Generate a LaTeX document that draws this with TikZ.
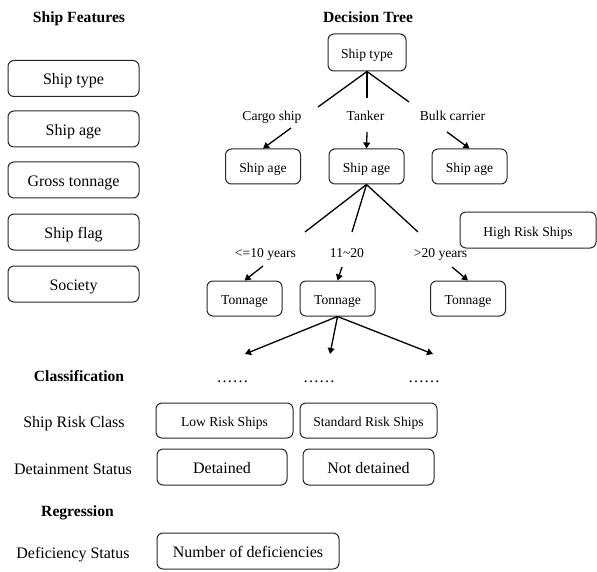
\documentclass[tikz,border=0pt]{standalone}
\usepackage{fontspec}
\setmainfont{Liberation Serif}
\usetikzlibrary{arrows.meta}
\begin{document}
\begin{tikzpicture}[x=0.5pt,y=-0.5pt,
 every node/.style={text height=0.66em, text depth=0.02em},
 box/.style={draw=black!85, line width=0.5pt, rounded corners=3pt, inner sep=0pt, align=center},
 big/.style={font=\fontsize{8}{9.6}\selectfont},
 small/.style={font=\fontsize{6.8}{8}\selectfont},
 ttl/.style={font=\fontsize{7.8}{9}\selectfont\bfseries},
 conn/.style={line width=0.65pt},
 arr/.style={line width=0.65pt, -{Triangle[length=3pt,width=3.4pt]}},
 lbox/.style={box,big,minimum width=65.5pt,minimum height=18pt},
 tbox/.style={box,small,minimum width=37.5pt,minimum height=17.5pt}]
\useasboundingbox (0,0) rectangle (597,571);

% titles
\node[ttl] (tf) at (79,16) {Ship Features};
\node[ttl] (tdt) at (368,16) {Decision Tree};

% features
\node[lbox] (f1) at (73.5,78.5) {Ship type};
\node[lbox] (f2) at (73.5,129) {Ship age};
\node[lbox] (f3) at (73.5,180) {Gross tonnage};
\node[lbox] (f4) at (73.5,232) {Ship flag};
\node[lbox] (f5) at (73.5,284) {Society};

% tree
\node[box,small,minimum width=39pt,minimum height=18.5pt] (st) at (367,52.5) {Ship type};
\node[small] (lc) at (272,114) {Cargo ship};
\node[small] (lt) at (365.5,114) {Tanker};
\node[small] (lb) at (452.5,114) {Bulk carrier};
\coordinate (e1) at (318,107);
\coordinate (e2) at (367,98);
\coordinate (e3) at (409,102);
\draw[conn] (st.south) -- (e1);
\draw[conn] (st.south) -- (e2);
\draw[conn] (st.south) -- (e3);

\node[tbox] (a1) at (263,166.5) {Ship age};
\node[tbox] (a2) at (366.5,166.5) {Ship age};
\node[tbox] (a3) at (469.5,166.5) {Ship age};
\coordinate (s1) at (291,128);
\coordinate (s2) at (367,132);
\coordinate (s3) at (447,132);
\draw[arr] (s1) -- (a1.north);
\draw[arr] (s2) -- (a2.north);
\draw[arr] (s3) -- (a3.north);

\node[small] (y1) at (265.5,251) {<=10 years};
\node[small] (y2) at (347,251) {11\textasciitilde 20};
\node[small] (y3) at (440.5,251) {>20 years};
\coordinate (g1) at (305,232);
\coordinate (g2) at (352,232);
\coordinate (g3) at (418,232);
\draw[conn] (a2.south) -- (g1);
\draw[conn] (a2.south) -- (g2);
\draw[conn] (a2.south) -- (g3);

\node[box,small,minimum width=68pt,minimum height=18pt] (hr) at (528,230) {High Risk Ships};

\node[tbox] (t1) at (244.5,298.5) {Tonnage};
\node[tbox] (t2) at (337.5,298.5) {Tonnage};
\node[tbox] (t3) at (468,298.5) {Tonnage};
\coordinate (h1) at (263,266);
\coordinate (h2) at (342,267);
\coordinate (h3) at (452,267);
\draw[arr] (h1) -- (t1.north);
\draw[arr] (h2) -- (t2.north);
\draw[arr] (h3) -- (t3.north);

\coordinate (d1) at (245,354);
\coordinate (d2) at (330,354);
\coordinate (d3) at (433,354);
\draw[arr] (t2.south) -- (d1);
\draw[arr] (t2.south) -- (d2);
\draw[arr] (t2.south) -- (d3);

\node[big] (o1) at (232.5,376) {……};
\node[big] (o2) at (319,376) {……};
\node[big] (o3) at (424,376) {……};

% classification
\node[ttl] (tc) at (79,375) {Classification};
\node[big] (rc) at (74,421) {Ship Risk Class};
\node[big] (ds) at (73,468) {Detainment Status};
\node[ttl] (tr) at (77.5,510) {Regression};
\node[big] (fs) at (73,552) {Deficiency Status};

\node[box,small,minimum width=68.5pt,minimum height=17.5pt] (low) at (224.5,420.5) {Low Risk Ships};
\node[box,small,minimum width=68.5pt,minimum height=17.5pt] (std) at (368.5,420.5) {Standard Risk Ships};
\node[box,big,minimum width=65pt,minimum height=18pt] (det) at (222,467) {Detained};
\node[box,big,minimum width=65.5pt,minimum height=18pt] (ndet) at (368.5,467) {Not detained};
\node[box,big,minimum width=91pt,minimum height=18pt] (nod) at (248,551) {Number of deficiencies};
\end{tikzpicture}
\end{document}
